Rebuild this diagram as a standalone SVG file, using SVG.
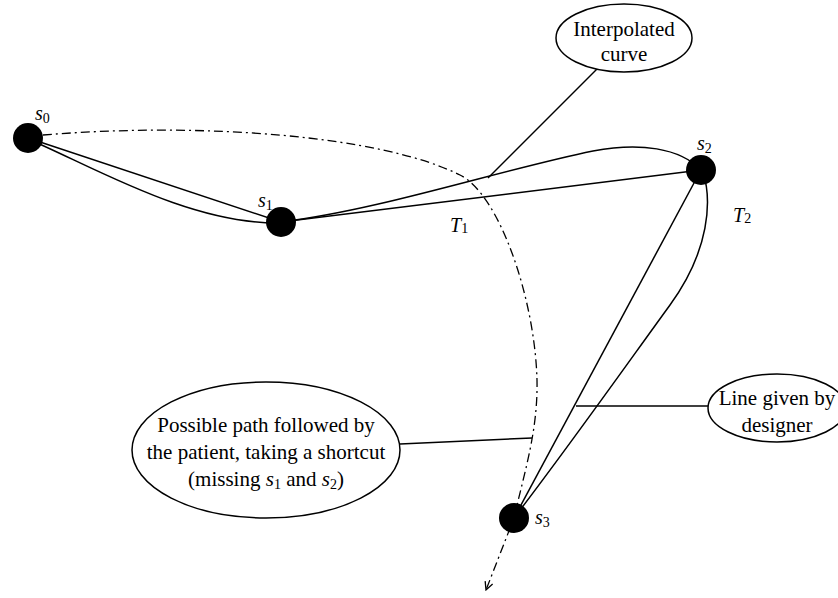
<svg xmlns="http://www.w3.org/2000/svg" width="838" height="598" viewBox="0 0 838 598">
<style>
.ln{fill:none;stroke:#000;stroke-width:1.5}
.dd{fill:none;stroke:#000;stroke-width:1.3;stroke-dasharray:9 4 2 4}
.ell{fill:#fff;stroke:#000;stroke-width:1.5}
.node{fill:#000}
.t{font-family:"Liberation Serif","Times New Roman",serif;font-size:21px;fill:#000;text-anchor:middle}
.v{font-family:"Liberation Serif","Times New Roman",serif;font-size:20px;font-style:italic;fill:#000}
.sub{font-family:"Liberation Serif","Times New Roman",serif;font-size:14px;font-style:normal}
</style>
<defs>
<marker id="open" viewBox="0 0 10 10" refX="9" refY="5" markerWidth="10" markerHeight="10" markerUnits="userSpaceOnUse" orient="auto">
<path d="M1,1 L9,5 L1,9" fill="none" stroke="#000" stroke-width="1.3"/>
</marker>
</defs>
<g id="connectors">
<line class="ln" x1="28" y1="138" x2="281" y2="222"/>
<path class="ln" d="M28,139 C90,165 190,225 281,223"/>
<line class="ln" x1="281" y1="222" x2="701" y2="170"/>
<path class="ln" d="M281,222 C380,210 500,170 593,151 C640,142 680,148 701,170"/>
<line class="ln" x1="701" y1="170" x2="514" y2="518"/>
<path class="ln" d="M703,172 C712,200 710,250 670,305 C630,360 570,445 514,518"/>
<path class="dd" d="M43,135 C200,122 380,135 460,175 C500,195 535,300 537,380 C538,430 525,470 514,518 L486,590" marker-end="url(#open)"/>
<line class="ln" x1="597" y1="69" x2="488" y2="178"/>
<line class="ln" x1="708" y1="406" x2="576" y2="406"/>
<line class="ln" x1="400" y1="444" x2="532" y2="438"/>
</g>
<g id="s0"><circle class="node" cx="28" cy="138" r="15"/><text class="v" x="35" y="120">s<tspan class="sub" dy="3">0</tspan></text></g>
<g id="s1"><circle class="node" cx="281" cy="222" r="15"/><text class="v" x="258" y="207">s<tspan class="sub" dy="3">1</tspan></text></g>
<g id="s2"><circle class="node" cx="701" cy="170" r="15"/><text class="v" x="697" y="150">s<tspan class="sub" dy="3">2</tspan></text></g>
<g id="s3"><circle class="node" cx="514" cy="518" r="15"/><text class="v" x="535" y="524">s<tspan class="sub" dy="3">3</tspan></text></g>
<g id="T1"><text class="v" x="450" y="232">T<tspan class="sub" dy="1">1</tspan></text></g>
<g id="T2"><text class="v" x="733" y="222">T<tspan class="sub" dy="1">2</tspan></text></g>
<g id="interpolated-curve"><ellipse class="ell" cx="624" cy="38" rx="68" ry="34"/><text class="t" x="624" y="36">Interpolated</text><text class="t" x="624" y="61">curve</text></g>
<g id="line-given"><ellipse class="ell" cx="777" cy="408" rx="69" ry="34"/><text class="t" x="777" y="405">Line given by</text><text class="t" x="777" y="432">designer</text></g>
<g id="possible-path"><ellipse class="ell" cx="266" cy="450" rx="134" ry="68"/><text class="t" x="266" y="432">Possible path followed by</text><text class="t" x="266" y="459">the patient, taking a shortcut</text><text class="t" x="266" y="486">(missing <tspan font-style="italic">s</tspan><tspan font-size="14" dy="3">1</tspan><tspan dy="-3"> and </tspan><tspan font-style="italic">s</tspan><tspan font-size="14" dy="3">2</tspan><tspan dy="-3">)</tspan></text></g>
</svg>
